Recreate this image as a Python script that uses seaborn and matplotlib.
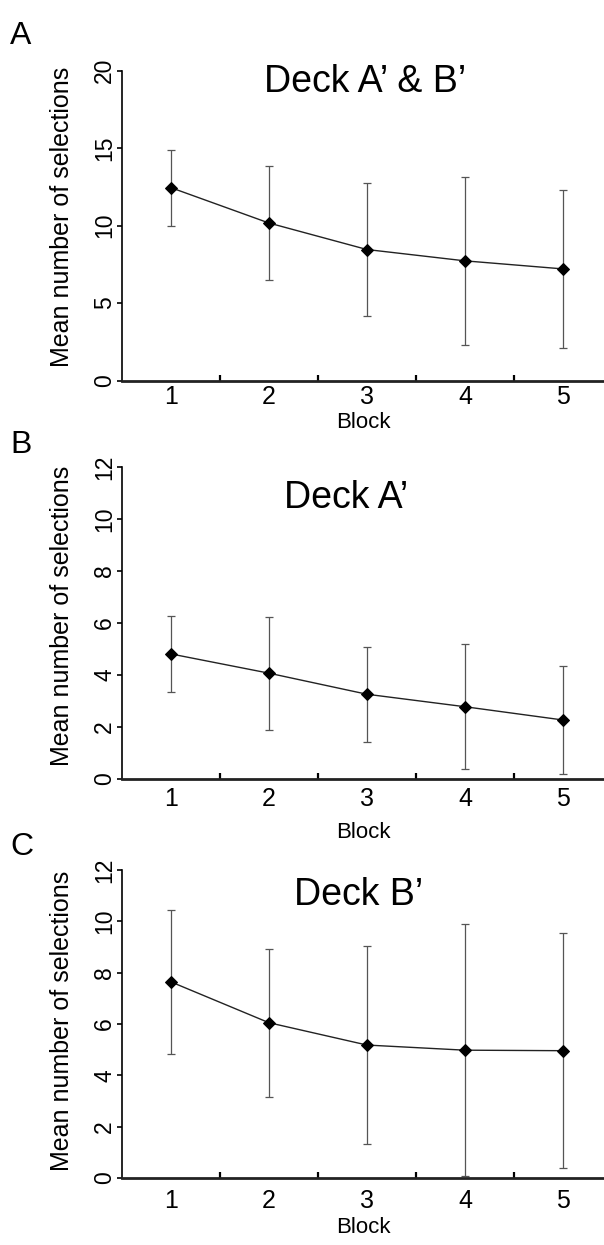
#!/usr/bin/env python3
"""Mean number of selections per block for decks A', B' and both combined."""

import matplotlib

matplotlib.use("Agg")
import matplotlib.pyplot as plt
import pandas as pd
import seaborn as sns

blocks = [1, 2, 3, 4, 5]

# Deck A' & B'
mean_ab = [12.44, 10.16, 8.45, 7.72, 7.20]
sd_ab = [2.44, 3.67, 4.30, 5.42, 5.10]

# Deck A'
mean_a = [4.81, 4.07, 3.26, 2.78, 2.27]
sd_a = [1.47, 2.18, 1.83, 2.40, 2.08]

# Deck B'
mean_b = [7.64, 6.05, 5.18, 4.98, 4.96]
sd_b = [2.82, 2.88, 3.87, 4.90, 4.58]

titles = ["Deck A\u2019 & B\u2019", "Deck A\u2019", "Deck B\u2019"]
letters = ["A", "B", "C"]
y_max = [20, 12, 12]
y_step = [5, 2, 2]

sns.set_style("ticks")
plt.rcParams["font.family"] = ["Liberation Sans", "DejaVu Sans"]
plt.rcParams["text.color"] = "black"
plt.rcParams["axes.labelcolor"] = "black"
plt.rcParams["xtick.color"] = "black"
plt.rcParams["ytick.color"] = "black"

W, H = 604, 1245
fig = plt.figure(figsize=(W / 100, H / 100), dpi=100)

# panel boxes in pixels: left, top, right, bottom
boxes = [(122, 70.5, 604, 380.5), (122, 467, 604, 779), (122, 870, 604, 1178)]
title_pos = [(0.504, 0.931), (0.465, 0.869), (0.49, 0.886)]
ylabel_y = [0.529, 0.522, 0.51]
letter_base = [44, 453, 855]
tick_pad = [3, 6, 8]
block_pad = [2.5, 8, 3]

series = [(mean_ab, sd_ab), (mean_a, sd_a), (mean_b, sd_b)]

for i, (means, sds) in enumerate(series):
    l, t, r, b = boxes[i]
    ax = fig.add_axes([l / W, 1 - b / H, (r - l) / W, (b - t) / H])
    df = pd.DataFrame({"Block": blocks, "mean": means, "sd": sds})

    ax.errorbar(df["Block"], df["mean"], yerr=df["sd"], fmt="none",
                ecolor="#555555", elinewidth=0.9, capsize=3, capthick=0.9,
                zorder=2)
    sns.lineplot(data=df, x="Block", y="mean", ax=ax, color="#222222",
                 linewidth=1.0, marker="D", markersize=6,
                 markerfacecolor="black", markeredgecolor="black", zorder=3)

    ax.set_xlim(0.5, 5.42)
    ax.set_ylim(0, y_max[i])
    ax.set_xticks(blocks)
    ax.set_xticks([1.5, 2.5, 3.5, 4.5], minor=True)
    ax.set_yticks(range(0, y_max[i] + 1, y_step[i]))

    ax.tick_params(axis="x", which="major", length=0, pad=tick_pad[i],
                   labelsize=18)
    ax.tick_params(axis="x", which="minor", direction="in", length=4,
                   width=1.6, color="black")
    ax.tick_params(axis="y", direction="out", length=3.6, width=1.2,
                   color="black", labelsize=16.5, pad=0.5, labelrotation=90)
    for lab in ax.get_yticklabels():
        lab.set_va("center")

    sns.despine(ax=ax)
    ax.spines["left"].set_linewidth(1.2)
    ax.spines["bottom"].set_linewidth(2.0)
    ax.spines["left"].set_color("black")
    ax.spines["bottom"].set_color("#222222")

    ax.set_xlabel("Block", fontsize=16, labelpad=block_pad[i])
    ax.set_ylabel("Mean number of selections", fontsize=18)
    ax.yaxis.set_label_coords(-0.1, ylabel_y[i])

    tx, ty = title_pos[i]
    ax.text(tx, ty, titles[i], transform=ax.transAxes, ha="center",
            va="baseline", fontsize=27)

    fig.text(10 / W, 1 - letter_base[i] / H, letters[i], fontsize=23,
             ha="left", va="baseline")

fig.savefig("out.png", dpi=100, facecolor="white")
